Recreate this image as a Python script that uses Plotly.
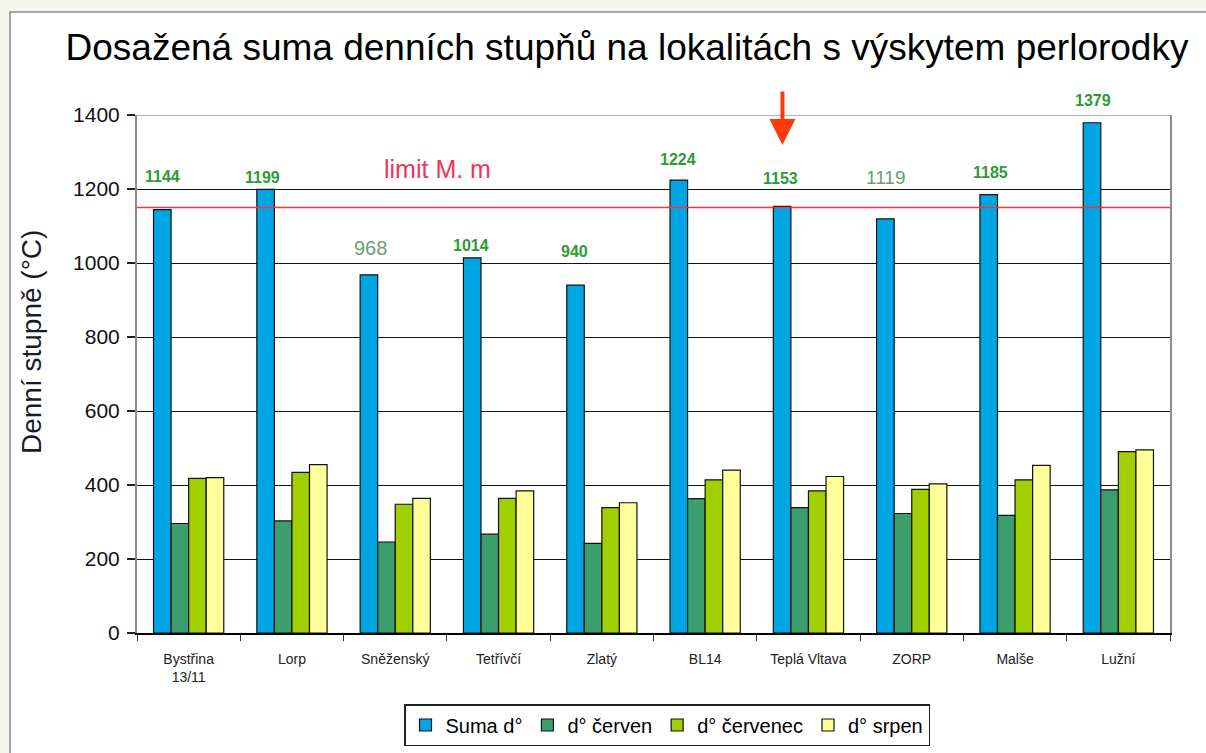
import plotly.graph_objects as go

# Lokality a denní stupně (°C)
lokality = ["Bystřina<br>13/11", "Lorp", "Sněženský", "Tetřívčí", "Zlatý",
            "BL14", "Teplá Vltava", "ZORP", "Malše", "Lužní"]
suma = [1144, 1199, 968, 1014, 940, 1224, 1153, 1119, 1185, 1379]
cerven = [296, 303, 246, 267, 242, 363, 339, 323, 318, 387]
cervenec = [418, 434, 348, 364, 339, 414, 384, 388, 414, 490]
srpen = [420, 455, 364, 384, 352, 440, 423, 403, 453, 495]
limit_mm = 1150

series = [
    ("Suma d°", suma, "#00A6E3"),
    ("d° červen", cerven, "#3C9E6D"),
    ("d° červenec", cervenec, "#A2CF00"),
    ("d° srpen", srpen, "#FFFF99"),
]

# placement of the value labels (pixels relative to the top of each blue bar)
label_dy = [33, 12, 27, 12, 34, 21, 28, 41, 22, 22]
label_dx = [-26, -29, -25, -28, -27, -27, -28, -26, -25, -25]
label_bold = [True, True, False, True, True, True, True, False, True, True]
label_size = [16, 16, 20, 16, 16, 16, 16, 19, 16, 16]

FONT = "Liberation Sans, Arial, sans-serif"

# plot area in pixels: left 137, right 1170, top 115, bottom 633
PL, PR, PT, PB = 137, 1170, 115, 633


def px_to_paper(px, py):
    return (px - PL) / (PR - PL), (PB - py) / (PB - PT)


fig = go.Figure()
for name, vals, col in series:
    fig.add_trace(go.Bar(
        x=lokality, y=vals, name=name,
        marker=dict(color=col, line=dict(color="#111111", width=1.2)),
    ))

annotations = []
for cat, v, dy, dx, bold, sz in zip(lokality, suma, label_dy, label_dx,
                                     label_bold, label_size):
    if bold:
        txt, col = f"<b>{v}</b>", "#2E9A35"
    else:
        txt, col = str(v), "#6A9F72"
    annotations.append(dict(x=cat, y=v, xref="x", yref="y", text=txt,
                            showarrow=False, yshift=dy, xshift=dx,
                            xanchor="center", yanchor="middle",
                            font=dict(family=FONT, size=sz, color=col)))

lx, ly = px_to_paper(437, 169)
annotations.append(dict(x=lx, y=ly, xref="paper", yref="paper",
                        text="limit M. m", showarrow=False,
                        xanchor="center", yanchor="middle",
                        font=dict(family=FONT, size=25, color="#F2335A")))

# arrow pointing at Teplá Vltava
annotations.append(dict(x="Teplá Vltava", y=1319, xref="x", yref="y",
                        xshift=-26, text="", showarrow=True, ax=0, ay=-55,
                        arrowhead=2, arrowsize=1.3, arrowwidth=4,
                        arrowcolor="#FF3A0A"))

# vertical axis title
tx, ty = px_to_paper(31, 342)
annotations.append(dict(x=tx, y=ty, xref="paper", yref="paper",
                        text="Denní stupně (°C)", textangle=-90,
                        showarrow=False, xanchor="center", yanchor="middle",
                        font=dict(family=FONT, size=28, color="#1a1a2a")))

px0, py0 = px_to_paper(10, 12)
px1, py1 = px_to_paper(1220, 770)
shapes = [
    # white chart panel
    dict(type="rect", xref="paper", yref="paper", x0=px0, x1=px1,
         y0=py1, y1=py0, fillcolor="white",
         line=dict(color="#8a8a8a", width=1.5), layer="below"),
    # limit line
    dict(type="line", xref="paper", yref="y", x0=0, x1=1,
         y0=limit_mm, y1=limit_mm, line=dict(color="#FF3030", width=1.5)),
    # top frame
    dict(type="line", xref="paper", yref="y", x0=0, x1=1,
         y0=1400, y1=1400, line=dict(color="#B5B5B5", width=2)),
]

fig.update_layout(
    width=1206, height=753,
    margin=dict(l=PL, r=1206 - PR, t=PT, b=753 - PB, autoexpand=False),
    paper_bgcolor="#F6F5EE",
    plot_bgcolor="white",
    barmode="group", bargap=0.32, bargroupgap=0,
    title=dict(text="Dosažená suma denních stupňů na lokalitách s výskytem perlorodky",
               x=627 / 1206, xref="container", xanchor="center",
               y=1 - 47 / 753, yref="container", yanchor="middle",
               font=dict(family=FONT, size=37, color="#000000")),
    legend=dict(orientation="h", x=667 / 1206, xanchor="center",
                xref="container", y=1 - 704 / 753, yref="container",
                yanchor="top", bordercolor="#222222", borderwidth=1.5,
                bgcolor="white", font=dict(family=FONT, size=20, color="#000"),
                itemwidth=30, tracegroupgap=0),
    annotations=annotations,
    shapes=shapes,
    showlegend=True,
)

fig.update_xaxes(
    type="category", showline=True, linecolor="#000000", linewidth=1.5,
    ticks="outside", tickson="boundaries", ticklen=6, tickcolor="#333",
    ticklabelstandoff=12, automargin=False,
    tickfont=dict(family=FONT, size=14, color="#222222"),
    showgrid=False,
)
fig.update_yaxes(
    range=[0, 1400], tickvals=[0, 200, 400, 600, 800, 1000, 1200, 1400],
    showline=True, linecolor="#8C8C8C", linewidth=2, mirror=True,
    ticks="outside", ticklen=8, tickcolor="#222", tickwidth=1.5,
    ticklabelstandoff=3, automargin=False,
    showgrid=True, gridcolor="#111111", gridwidth=1, zeroline=False,
    tickfont=dict(family=FONT, size=21, color="#111111"),
)

fig.write_html("out.html")
